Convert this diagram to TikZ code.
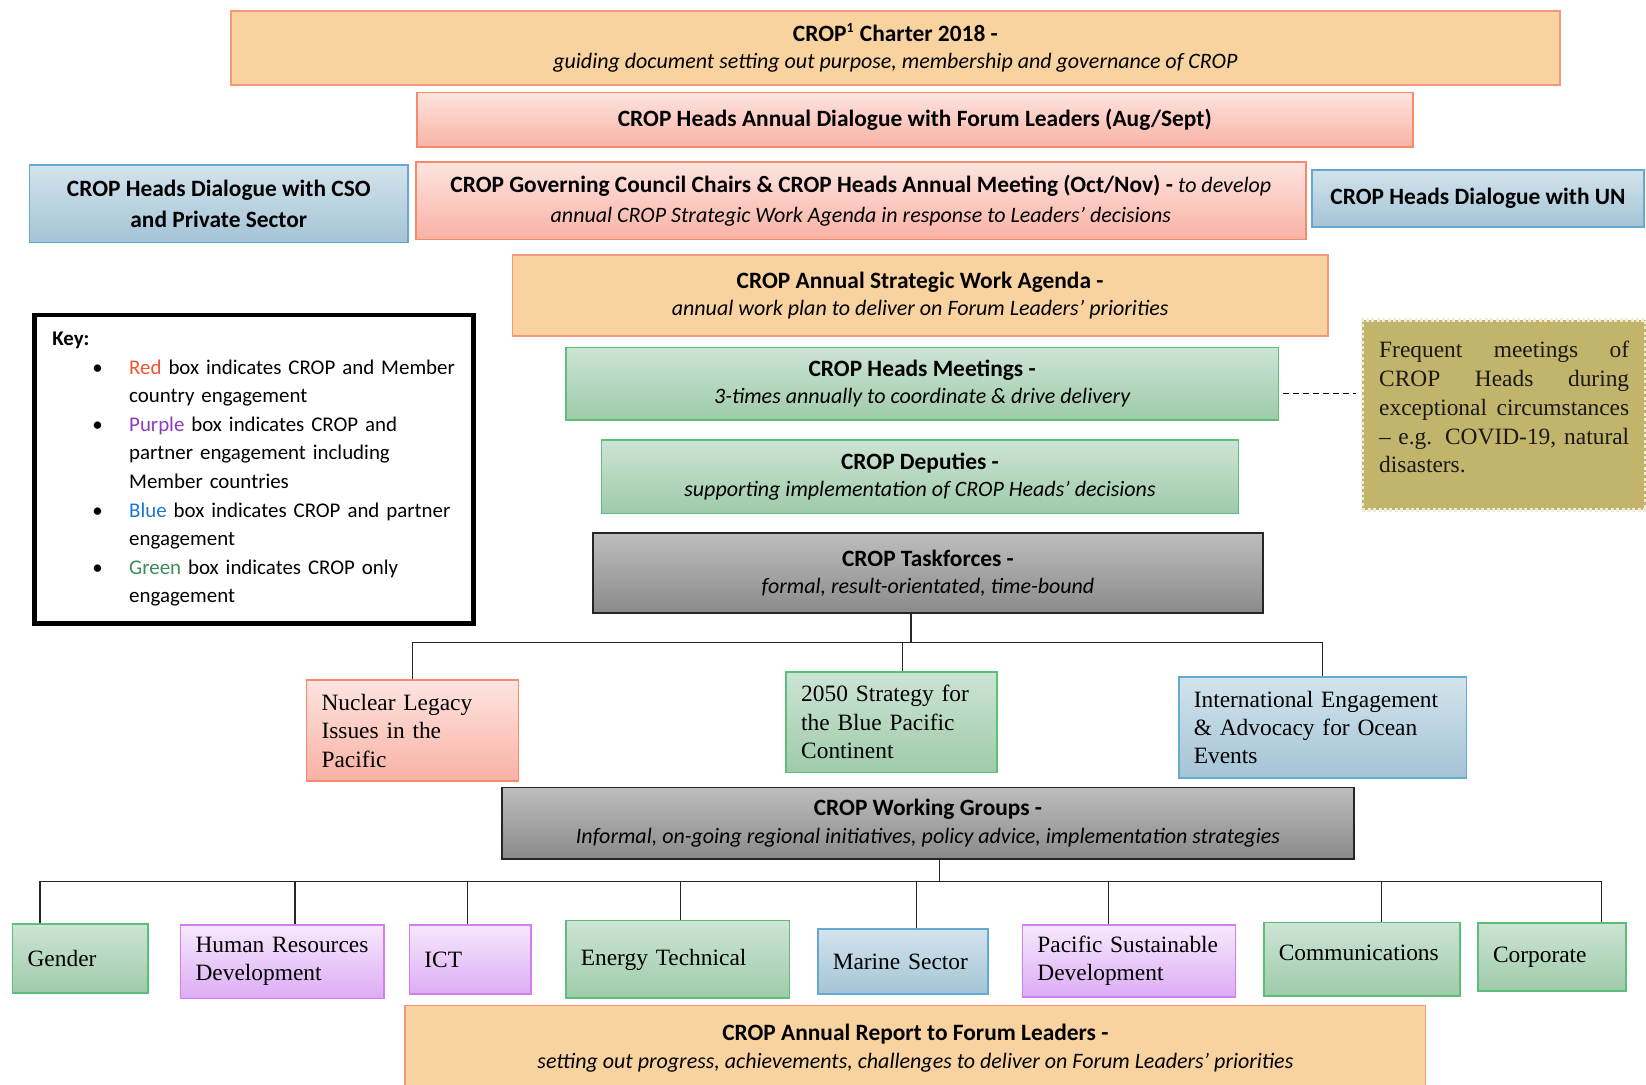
\documentclass[tikz,border=0pt]{standalone}
\usepackage{fontspec}
\setmainfont{Liberation Serif}
\setsansfont{Carlito}

\definecolor{orfill}{HTML}{F8D3A0}
\definecolor{orline}{HTML}{F4977A}
\definecolor{redtop}{HTML}{FDE4E0}
\definecolor{redbot}{HTML}{F9B2A4}
\definecolor{redline}{HTML}{F58A6C}
\definecolor{bluetop}{HTML}{D3E3EC}
\definecolor{bluebot}{HTML}{A4C4D6}
\definecolor{blueline}{HTML}{62ABCE}
\definecolor{grntop}{HTML}{CDE4D4}
\definecolor{grnbot}{HTML}{9ECBAA}
\definecolor{grnline}{HTML}{5CBE79}
\definecolor{purtop}{HTML}{F6E9FC}
\definecolor{purbot}{HTML}{DDACF5}
\definecolor{purline}{HTML}{D27DF0}
\definecolor{graytop}{HTML}{BDBDBD}
\definecolor{graybot}{HTML}{8A8A8A}
\definecolor{notefill}{HTML}{C2B56B}
\definecolor{noteline}{HTML}{F0ECDC}
\definecolor{keyred}{HTML}{F05532}
\definecolor{keypurple}{HTML}{8C3CBE}
\definecolor{keyblue}{HTML}{1E78D2}
\definecolor{keygreen}{HTML}{3C8C5A}

% italic second line of the title boxes
\newcommand{\subline}[1]{{\fontsize{11}{13.7}\selectfont\itshape #1}}

\begin{document}
\begin{tikzpicture}[x=1pt, y=-1pt, line width=0.8pt,
    box/.style = {align=center, inner sep=2pt, text=black, font=\sffamily\fontsize{11.7}{13.7}\selectfont},
    orbox/.style = {box, draw=orline, fill=orfill},
    redbox/.style = {box, draw=redline, top color=redtop, bottom color=redbot},
    bluebox/.style = {box, draw=blueline, top color=bluetop, bottom color=bluebot},
    grnbox/.style = {box, draw=grnline, top color=grntop, bottom color=grnbot},
    purbox/.style = {box, draw=purline, top color=purtop, bottom color=purbot},
    graybox/.style = {box, draw=black!85, top color=graytop, bottom color=graybot},
    serif/.style = {font=\rmfamily\fontsize{11.7}{14.2}\selectfont, align=left, inner xsep=7.5pt},
    boxsize/.style 2 args = {minimum width=#1pt, minimum height=#2pt},
    link/.style = {draw=black!85, line width=0.65pt}]

    \path[use as bounding box, fill=white] (0,0) rectangle (823,542);

    % governance boxes
    \node[orbox, boxsize={664.5}{36.75}] (charter) at (447.7,24)
        {\textbf{CROP\textsuperscript{\scriptsize 1} Charter 2018 -}\\\subline{guiding document setting out purpose, membership and governance of CROP}};
    \node[redbox, boxsize={498.1}{27.3}] (dialogue) at (457.4,59.85)
        {\textbf{CROP Heads Annual Dialogue with Forum Leaders (Aug/Sept)}};
    \node[bluebox, boxsize={189.45}{38.85}] (cso) at (109.4,101.8)
        {\textbf{CROP Heads Dialogue with CSO}\\[2pt]\textbf{and Private Sector}};
    \node[redbox, boxsize={445.05}{38.8}] (council) at (430.4,100.25)
        {\textbf{CROP Governing Council Chairs \& CROP Heads Annual Meeting (Oct/Nov) -} \subline{to develop}\\[1pt]\subline{annual CROP Strategic Work Agenda in response to Leaders’ decisions}};
    \node[bluebox, boxsize={165.85}{28.3}] (un) at (739,99.2)
        {\textbf{CROP Heads Dialogue with UN}};
    \node[orbox, boxsize={407.8}{40.4}] (agenda) at (460.05,147.75)
        {\textbf{CROP Annual Strategic Work Agenda -}\\\subline{annual work plan to deliver on Forum Leaders’ priorities}};

    % key
    \node[draw=black, line width=2.2pt, fill=white, minimum height=154.3pt, text width=210pt, inner xsep=4.7pt,
          align=left, font=\sffamily\fontsize{10.45}{14.3}\selectfont] (key) at (127,234.6)
        {\hspace*{4.2pt}\textbf{Key:}\\
         \hspace*{24.2pt}\makebox[18.4pt][l]{\textbullet}\mbox{\textcolor{keyred}{Red} box indicates CROP and Member}\\
         \hspace*{42.6pt}country engagement\\
         \hspace*{24.2pt}\makebox[18.4pt][l]{\textbullet}\mbox{\textcolor{keypurple}{Purple} box indicates CROP and}\\
         \hspace*{42.6pt}partner engagement including\\
         \hspace*{42.6pt}Member countries\\
         \hspace*{24.2pt}\makebox[18.4pt][l]{\textbullet}\mbox{\textcolor{keyblue}{Blue} box indicates CROP and partner}\\
         \hspace*{42.6pt}engagement\\
         \hspace*{24.2pt}\makebox[18.4pt][l]{\textbullet}\mbox{\textcolor{keygreen}{Green} box indicates CROP only}\\
         \hspace*{42.6pt}engagement};

    % CROP only levels
    \node[grnbox, boxsize={356.35}{36.2}] (meetings) at (461.1,191.85)
        {\textbf{CROP Heads Meetings -}\\\subline{3-times annually to coordinate \& drive delivery}};
    \node[draw=noteline, fill=notefill, line width=1.8pt, dash pattern=on 1.5pt off 1.2pt, minimum height=95pt,
          text width=125pt, inner xsep=8.4pt, align=justify, text=black!90,
          font=\rmfamily\fontsize{11.7}{14.4}\selectfont] (note) at (752.1,207.6)
        {Frequent meetings of\linebreak CROP Heads during\linebreak exceptional circumstances\linebreak – e.g. COVID-19, natural\linebreak disasters.\par\vspace{8pt}};
    \node[grnbox, boxsize={318.55}{36.75}] (deputies) at (460,238.3)
        {\textbf{CROP Deputies -}\\\subline{supporting implementation of CROP Heads’ decisions}};
    \node[graybox, boxsize={334.85}{39.9}] (tf) at (464,286.55)
        {\textbf{CROP Taskforces -}\\\subline{formal, result-orientated, time-bound}};

    % taskforces
    \node[redbox, serif, text width=91.05pt, minimum height=50.4pt] (nuc) at (206.3,365.3)
        {Nuclear Legacy\\Issues in the\\Pacific};
    \node[grnbox, serif, text width=90.5pt, minimum height=50.4pt] (bps) at (445.85,361.1)
        {2050 Strategy for\\the Blue Pacific\\Continent};
    \node[bluebox, serif, text width=128.8pt, minimum height=50.35pt] (intl) at (661.3,363.7)
        {International Engagement\\\& Advocacy for Ocean\\Events};

    \node[graybox, boxsize={426.15}{35.7}] (wg) at (464,411.5)
        {\textbf{CROP Working Groups -}\\\subline{Informal, on-going regional initiatives, policy advice, implementation strategies}};

    % working groups
    \node[grnbox, serif, text width=52.7pt, minimum height=34.65pt] (gen) at (40.15,479.2) {Gender};
    \node[purbox, serif, text width=86.85pt, minimum height=36.75pt] (hrd) at (141.2,480.8) {Human Resources\\Development};
    \node[purbox, serif, text width=45.85pt, minimum height=34.65pt] (ict) at (235.1,479.7) {ICT};
    \node[grnbox, serif, text width=96.8pt, minimum height=38.85pt] (ene) at (338.8,479.7) {Energy Technical};
    \node[bluebox, serif, text width=70.05pt, minimum height=32.55pt] (mar) at (451.4,480.8) {Marine Sector};
    \node[purbox, serif, text width=91.55pt, minimum height=36.2pt] (psd) at (564.5,480.5) {Pacific Sustainable\\Development};
    \node[grnbox, serif, text width=83.15pt, minimum height=36.75pt] (com) at (681,479.7) {Communications\par\vspace{7pt}};
    \node[grnbox, serif, text width=59pt, minimum height=34.1pt] (cor) at (776,478.4) {Corporate};

    \node[orbox, boxsize={510.15}{42.4}] (report) at (457.7,524)
        {\textbf{CROP Annual Report to Forum Leaders -}\\\subline{setting out progress, achievements, challenges to deliver on Forum Leaders’ priorities}};

    % connectors
    \draw[dash pattern=on 3pt off 2pt, line width=0.6pt, shorten <=2pt, shorten >=2.5pt]
        ([yshift=-5pt]meetings.east) -- ([yshift=-5pt]meetings.east -| note.west);

    \coordinate (tbar) at (455.5,321.2);
    \draw[link] ([xshift=-8.5pt]tf.south) -- ([xshift=-8.5pt]tf.south |- tbar);
    \draw[link] (nuc.north) |- (tbar) -| (intl.north);
    \draw[link] ([xshift=5.5pt]bps.north) -- ([xshift=5.5pt]bps.north |- tbar);

    \coordinate (wbar) at (469.75,440.85);
    \draw[link] ([xshift=5.75pt]wg.south) -- ([xshift=5.75pt]wg.south |- wbar);
    \draw[link] ([xshift=-20.2pt]gen.north) |- (wbar) -| ([xshift=24.9pt]cor.north);
    \foreach \n/\dx in {hrd/6.3, ict/-1.5, ene/1.3, mar/6.8, psd/-10.25, com/9.7}
        \draw[link] ([xshift=\dx pt]\n.north) -- ([xshift=\dx pt]\n.north |- wbar);
\end{tikzpicture}
\end{document}
